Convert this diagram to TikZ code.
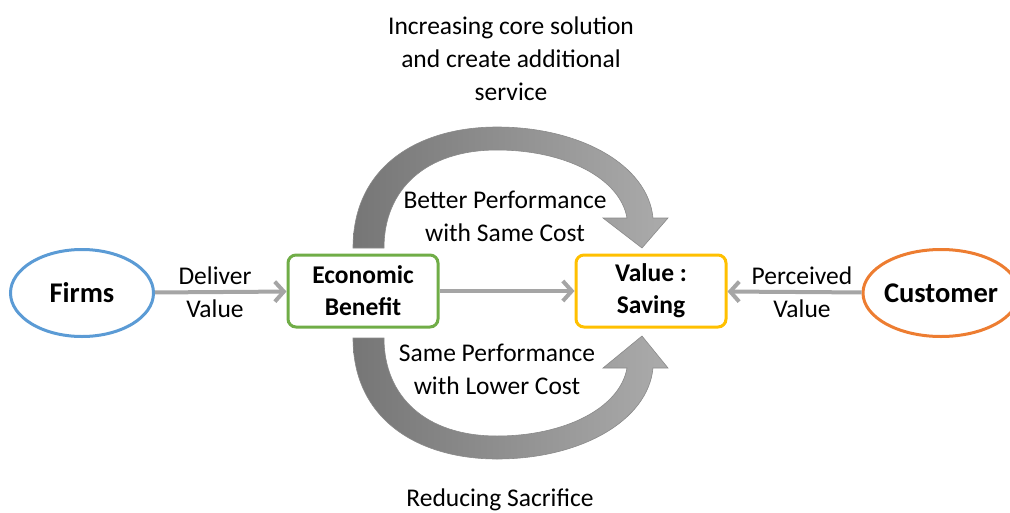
\documentclass[tikz,border=0pt]{standalone}
\usepackage{fontspec}
\setmainfont{Carlito}
\usetikzlibrary{arrows.meta,shapes.geometric}
\definecolor{cblue}{HTML}{5B9BD5}
\definecolor{corange}{HTML}{ED7D31}
\definecolor{cgreen}{HTML}{70AD47}
\definecolor{cgold}{HTML}{FFC000}
\definecolor{cgray}{HTML}{A5A5A5}
\definecolor{cdark}{HTML}{767676}
\definecolor{clight}{HTML}{ABABAB}
\definecolor{cedge}{HTML}{8A8A8A}
\tikzset{
  lbl/.style={font=\fontsize{25.5}{33}\selectfont, align=center, inner sep=0pt},
  ellnode/.style={ellipse, draw, line width=3pt, inner sep=0pt, minimum width=143pt, minimum height=87pt},
  elltext/.style={font=\fontsize{28.5}{32}\selectfont\bfseries, inner sep=0pt},
  boxnode/.style={rounded corners=8pt, draw, line width=3pt, minimum width=150pt, minimum height=72pt, align=center, font=\fontsize{25.5}{32}\selectfont\bfseries},
  conn/.style={draw=cgray, line width=4pt, -{Straight Barb[length=9pt,width=20pt]}},
  bigarrow/.style={left color=cdark, right color=clight, shading=axis, shading angle=90, draw=cedge, line width=0.6pt}
}
\begin{document}
\begin{tikzpicture}[x=1pt,y=-1pt]
\useasboundingbox (0,0) rectangle (1010,512);
% big curved arrows
\path[bigarrow] (353,248) .. controls (353,165) and (420,127) .. (497,127)
  .. controls (580,127) and (648,165) .. (653,218) -- (668,218) -- (642,248) -- (603,218) -- (627,218)
  .. controls (620,178) and (565,150) .. (497,150)
  .. controls (425,150) and (384,190) .. (384,248) -- cycle;
\path[bigarrow] (353,338) .. controls (353,421) and (420,459) .. (497,459)
  .. controls (580,459) and (648,421) .. (653,368) -- (668,368) -- (642,336) -- (603,368) -- (627,368)
  .. controls (620,408) and (565,436) .. (497,436)
  .. controls (425,436) and (384,396) .. (384,338) -- cycle;
% nodes
\node[ellnode, draw=cblue] (firms) at (82,293) {};
\node[elltext] (firmst) at (firms) {Firms};
\node[ellnode, draw=corange, minimum width=156pt] (cust) at (941,293) {};
\node[elltext] (custt) at (cust) {Customer};
\node[boxnode, draw=cgreen, fill=white] (eb) at (363,291) {Economic\\Benefit};
\node[boxnode, draw=cgold, fill=white] (vs) at (651,291) {Value :\\Saving};
% connectors
\draw[conn] (firms) -- (eb);
\draw[conn] (eb) -- (vs);
\draw[conn] (cust) -- (vs);
% labels
\node[lbl] (t1) at (511,59) {Increasing core solution\\and create additional\\service};
\node[lbl] (t2) at (505,216) {Better Performance\\with Same Cost};
\node[lbl] (t3) at (497,369) {Same Performance\\with Lower Cost};
\node[lbl] (t4) at (500,500) {Reducing Sacrifice};
\node[lbl] (t5) at (215,292) {Deliver\\Value};
\node[lbl] (t6) at (802,292) {Perceived\\Value};
\end{tikzpicture}
\end{document}
